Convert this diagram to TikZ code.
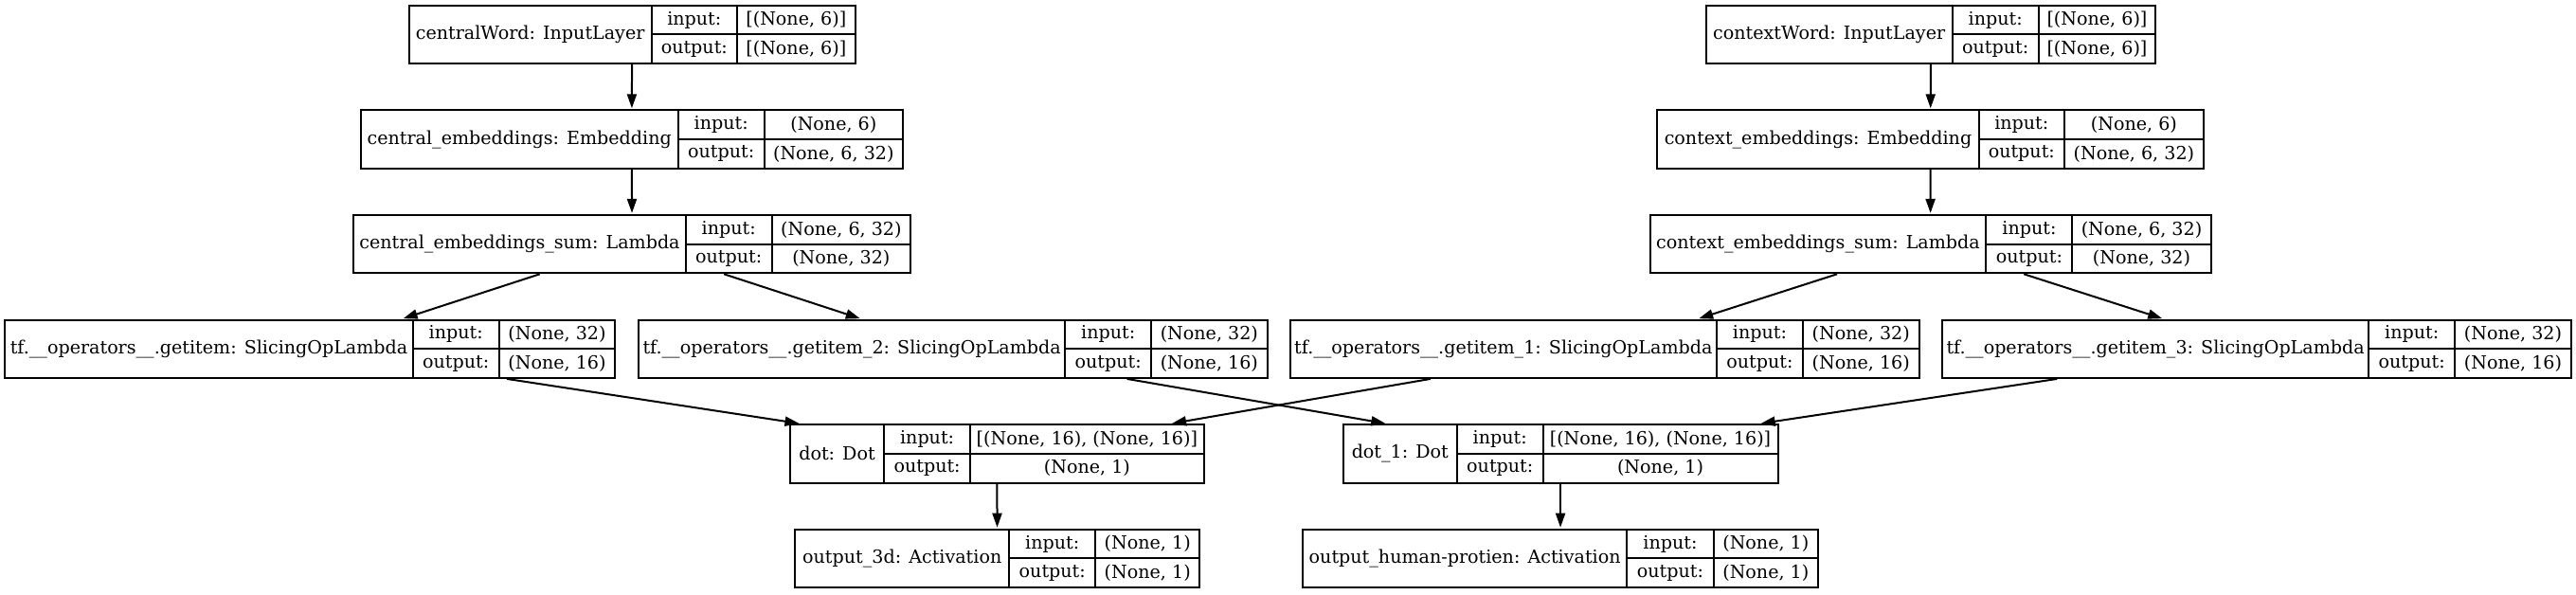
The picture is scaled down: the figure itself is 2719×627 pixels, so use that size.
\documentclass[tikz,border=0pt]{standalone}
\usepackage{fontspec}
\setmainfont{DejaVu Serif}
\usetikzlibrary{arrows.meta,fit}
\tikzset{
  boxframe/.style={draw=black, line width=1pt, inner sep=0pt},
  cellline/.style={draw=black, line width=1pt},
  txt/.style={inner sep=0pt, font=\fontsize{9.55}{11.5}\selectfont},
  edge/.style={draw=black, line width=1pt, -{Triangle[length=7.5pt,width=5pt]}, shorten >=0.5pt}
}
% \kbox{name}{x1}{xa}{xb}{x2}{ytop}{label}{in}{out}
\newcommand{\kbox}[9]{%
  \coordinate (#1-nw) at (#2,#6);
  \coordinate (#1-se) at (#5,{#6+61.4});
  \node[boxframe, fit=(#1-nw)(#1-se)] (#1) {};
  \draw[cellline] (#3,#6) -- (#3,{#6+61.4});
  \draw[cellline] (#4,#6) -- (#4,{#6+61.4});
  \draw[cellline] (#3,{#6+30.7}) -- (#5,{#6+30.7});
  \node[txt] (#1-l) at ({(#2+#3)/2},{#6+30.7}) {#7};
  \node[txt] (#1-i) at ({(#3+#4)/2},{#6+15.35}) {input:};
  \node[txt] (#1-o) at ({(#3+#4)/2},{#6+46.05}) {output:};
  \node[txt] (#1-iv) at ({(#4+#5)/2},{#6+15.35}) {#8};
  \node[txt] (#1-ov) at ({(#4+#5)/2},{#6+46.05}) {#9};
}
\begin{document}
\begin{tikzpicture}[x=0.5pt,y=-0.5pt]
\useasboundingbox (0,0) rectangle (2719,627);
\kbox{cw}{431.8}{687.5}{778.1}{902.5}{5.7}{centralWord: InputLayer}{[(None, 6)]}{[(None, 6)]}
\kbox{ce}{380.8}{715.6}{806.8}{952.8}{116.3}{central\_embeddings: Embedding}{(None, 6)}{(None, 6, 32)}
\kbox{cs}{373.1}{723.9}{814.5}{961.2}{226.9}{central\_embeddings\_sum: Lambda}{(None, 6, 32)}{(None, 32)}
\kbox{xw}{1800.7}{2060.7}{2151.7}{2275.2}{5.7}{contextWord: InputLayer}{[(None, 6)]}{[(None, 6)]}
\kbox{xe}{1749.4}{2088.6}{2179}{2325.8}{116.3}{context\_embeddings: Embedding}{(None, 6)}{(None, 6, 32)}
\kbox{xs}{1741.6}{2096.4}{2187.4}{2333.6}{226.9}{context\_embeddings\_sum: Lambda}{(None, 6, 32)}{(None, 32)}
\kbox{gi}{5.4}{435.7}{526.8}{649.1}{337.5}{tf.\_\_operators\_\_.getitem: SlicingOpLambda}{(None, 32)}{(None, 16)}
\kbox{gitwo}{674.1}{1124.2}{1215.2}{1337.5}{337.5}{tf.\_\_operators\_\_.getitem\_2: SlicingOpLambda}{(None, 32)}{(None, 16)}
\kbox{gione}{1361.5}{1812.2}{1902.7}{2025.8}{337.5}{tf.\_\_operators\_\_.getitem\_1: SlicingOpLambda}{(None, 32)}{(None, 16)}
\kbox{githree}{2050.2}{2500}{2591.4}{2713.6}{337.5}{tf.\_\_operators\_\_.getitem\_3: SlicingOpLambda}{(None, 32)}{(None, 16)}
\kbox{dot}{834}{933}{1024.2}{1270.5}{448.1}{dot: Dot}{[(None, 16), (None, 16)]}{(None, 1)}
\kbox{dotone}{1417.6}{1538}{1628.5}{1876.5}{448.1}{dot\_1: Dot}{[(None, 16), (None, 16)]}{(None, 1)}
\kbox{othree}{839.3}{1065.2}{1156.3}{1266.1}{558.7}{output\_3d: Activation}{(None, 1)}{(None, 1)}
\kbox{ohp}{1375.1}{1717.2}{1808.6}{1919}{558.7}{output\_human-protien: Activation}{(None, 1)}{(None, 1)}
\draw[edge] (cw) -- (ce);
\draw[edge] (ce) -- (cs);
\draw[edge] (cs) -- (gi);
\draw[edge] (cs) -- (gitwo);
\draw[edge] (xw) -- (xe);
\draw[edge] (xe) -- (xs);
\draw[edge] (xs) -- (gione);
\draw[edge] (xs) -- (githree);
\draw[edge] (gi) -- (dot);
\draw[edge] (gione) -- (dot);
\draw[edge] (gitwo) -- (dotone);
\draw[edge] (githree) -- (dotone);
\draw[edge] (dot) -- (othree);
\draw[edge] (dotone) -- (ohp);
\end{tikzpicture}
\end{document}
